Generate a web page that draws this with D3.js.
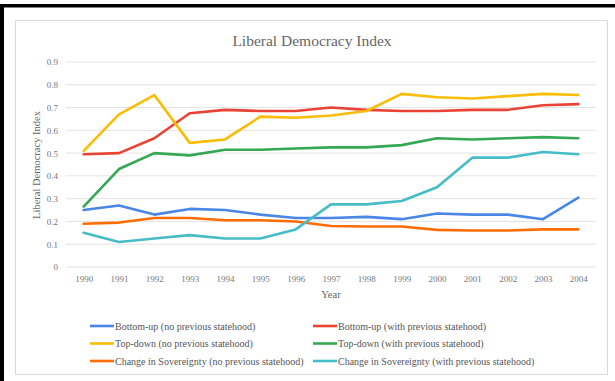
<!DOCTYPE html>
<html><head><meta charset="utf-8">
<script src="https://cdn.jsdelivr.net/npm/d3@7"></script>
<style>body{margin:0;background:#fff;}svg{display:block;}</style>
</head><body>
<svg id="c" width="615" height="381"></svg>
<script>
const years = ["1990","1991","1992","1993","1994","1995","1996","1997","1998","1999","2000","2001","2002","2003","2004"];
const yTicks = [0,0.1,0.2,0.3,0.4,0.5,0.6,0.7,0.8,0.9];
const seriesNames = [
  "Bottom-up (no previous statehood)",
  "Bottom-up (with previous statehood)",
  "Top-down (no previous statehood)",
  "Top-down (with previous statehood)",
  "Change in Sovereignty (no previous statehood)",
  "Change in Sovereignty (with previous statehood)"
];
const seriesColors = ["#4a86e8","#ea4335","#fbbc04","#34a853","#ff6d01","#46bdc6"];
const bottomUpNo   = [0.25,0.27,0.23,0.255,0.25,0.23,0.215,0.215,0.22,0.21,0.235,0.23,0.23,0.21,0.305];
const bottomUpWith = [0.495,0.50,0.565,0.675,0.69,0.685,0.685,0.70,0.69,0.685,0.685,0.69,0.69,0.71,0.715];
const topDownNo    = [0.51,0.67,0.755,0.545,0.56,0.66,0.655,0.665,0.685,0.76,0.745,0.74,0.75,0.76,0.755];
const topDownWith  = [0.265,0.43,0.50,0.49,0.515,0.515,0.52,0.525,0.525,0.535,0.565,0.56,0.565,0.57,0.565];
const sovNo        = [0.19,0.195,0.215,0.215,0.205,0.205,0.20,0.18,0.178,0.178,0.163,0.16,0.16,0.165,0.165];
const sovWith      = [0.15,0.11,0.125,0.14,0.125,0.125,0.165,0.275,0.275,0.29,0.35,0.48,0.48,0.505,0.495];
const seriesValues = [bottomUpNo,bottomUpWith,topDownNo,topDownWith,sovNo,sovWith];

const svg = d3.select("#c");
const serif = "'Liberation Serif','Times New Roman',serif";
// black frame (top and left)
svg.append("rect").attr("x",0).attr("y",4).attr("width",615).attr("height",3.5).attr("fill","#000");
svg.append("rect").attr("x",0).attr("y",4).attr("width",4).attr("height",377).attr("fill","#000");
// gray chart border
svg.append("rect").attr("x",15.5).attr("y",20.5).attr("width",592).attr("height",354).attr("fill","#fff").attr("stroke","#d9d9d9").attr("stroke-width",1);

const L=66, R=596, T=62, B=267;
const x = d3.scalePoint().domain(years).range([L,R]).padding(0.5);
const y = d3.scaleLinear().domain([0,0.9]).range([B,T]);

// gridlines
svg.append("g").selectAll("line").data(yTicks).join("line")
  .attr("x1",L).attr("x2",R).attr("y1",d=>y(d)).attr("y2",d=>y(d))
  .attr("stroke","#e3e3e3").attr("stroke-width",1);

// y axis
const yAxis = d3.axisLeft(y).tickValues(yTicks).tickSize(0).tickPadding(8).tickFormat(d=>d===0?"0":d3.format(".1f")(d));
const gy = svg.append("g").attr("transform",`translate(${L},0)`).call(yAxis);
gy.select(".domain").remove();
gy.selectAll("text").attr("font-family",serif).attr("font-size",9).attr("fill","#777");

// x axis
const xAxis = d3.axisBottom(x).tickSize(0).tickPadding(9);
const gx = svg.append("g").attr("transform",`translate(0,${B})`).call(xAxis);
gx.select(".domain").remove();
gx.selectAll("text").attr("font-family",serif).attr("font-size",9).attr("fill","#777");

// lines
const line = d3.line().x((d,i)=>x(years[i])).y(d=>y(d));
svg.append("g").selectAll("path").data(seriesValues).join("path")
  .attr("d",d=>line(d)).attr("fill","none")
  .attr("stroke",(d,i)=>seriesColors[i]).attr("stroke-width",2.6)
  .attr("stroke-linejoin","round").attr("stroke-linecap","round");

// titles
svg.append("text").attr("x",312).attr("y",46).attr("text-anchor","middle")
  .attr("font-family",serif).attr("font-size",15.5).attr("fill","#666").text("Liberal Democracy Index");
svg.append("text").attr("x",331).attr("y",298).attr("text-anchor","middle")
  .attr("font-family",serif).attr("font-size",10.5).attr("fill","#666").text("Year");
svg.append("text").attr("transform","translate(40,165) rotate(-90)").attr("text-anchor","middle")
  .attr("font-family",serif).attr("font-size",10.5).attr("fill","#666").text("Liberal Democracy Index");

// legend
const lg = svg.append("g");
seriesNames.forEach((n,i)=>{
  const col=i%2, row=Math.floor(i/2);
  const lx = col===0?90:313, ly = 326 + row*17.5;
  lg.append("line").attr("x1",lx).attr("x2",lx+24).attr("y1",ly).attr("y2",ly)
    .attr("stroke",seriesColors[i]).attr("stroke-width",2.6);
  lg.append("text").attr("x",lx+25).attr("y",ly+3.5).attr("font-family",serif).attr("font-size",10)
    .attr("fill","#555").text(n);
});
</script>
</body></html>
